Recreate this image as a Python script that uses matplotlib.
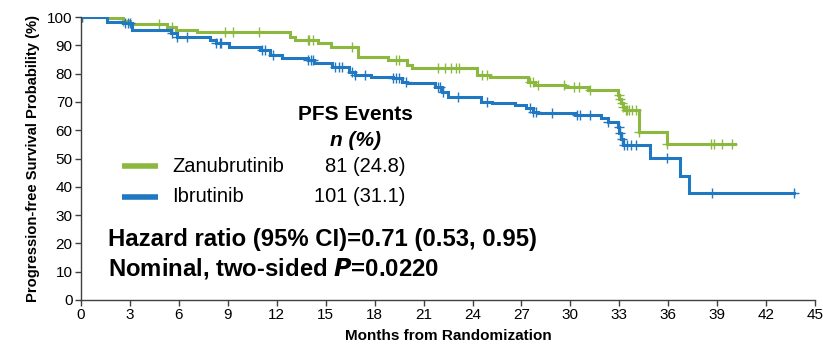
import numpy as np
import matplotlib
matplotlib.use("Agg")
import matplotlib.pyplot as plt
from matplotlib import font_manager

# ---------------- data ----------------
zanu_times = [0, 1.6, 2.6, 3.0, 5.3, 5.8, 7.1, 12.8, 13.1, 14.5, 15.3, 17.0, 18.8, 20.0, 20.3,
              24.3, 25.1, 27.4, 27.8, 29.7, 31.1, 32.9, 33.0, 33.1, 33.2, 33.3, 34.2, 35.9]
zanu_surv = [100, 99.5, 98.7, 97.5, 96.6, 95.6, 94.8, 92.8, 91.9, 90.7, 89.5, 86.0, 84.8, 83.0, 81.9,
             79.5, 78.9, 77.1, 76.0, 75.4, 74.2, 72.5, 71.0, 69.5, 68.3, 67.1, 59.5, 55.0]
zanu_end = 40.1
zanu_censor = [0.05, 2.6, 4.8, 5.6, 8.8, 9.3, 10.9, 13.9, 14.0, 14.2, 16.6, 19.3, 19.5, 21.9, 22.3,
               22.7, 23.0, 23.2, 24.6, 24.9, 27.5, 27.7, 28.0, 29.6, 30.2, 30.5, 31.2, 32.95, 33.05,
               33.15, 33.25, 33.4, 33.5, 33.6, 33.8, 34.0, 34.2, 35.9, 38.6, 38.8, 39.3, 39.9]

ibru_times = [0, 1.6, 2.6, 3.1, 5.5, 5.9, 7.9, 8.3, 9.1, 11.0, 11.6, 12.3, 13.9, 14.3, 15.4, 16.4,
              16.8, 17.8, 19.1, 19.7, 20.0, 21.7, 22.1, 22.5, 24.5, 25.2, 26.6, 27.3, 27.7, 28.0,
              30.3, 31.9, 32.3, 32.9, 33.0, 33.1, 33.2, 34.9, 36.7, 37.3]
ibru_surv = [100, 98.3, 97.8, 95.4, 94.2, 93.0, 91.9, 90.7, 89.5, 88.3, 86.6, 85.6, 84.8, 83.6, 82.2,
             80.7, 79.5, 78.9, 78.3, 77.1, 76.6, 75.4, 73.6, 71.8, 70.1, 69.5, 68.9, 67.7, 66.5, 66.0,
             65.4, 64.2, 63.0, 61.0, 59.0, 57.0, 54.8, 50.3, 43.9, 37.7]
ibru_end = 43.7
ibru_censor = [0.05, 2.7, 2.9, 3.0, 5.6, 5.9, 6.5, 8.3, 8.5, 8.6, 11.1, 11.3, 11.8, 13.9, 14.1, 14.2,
               15.6, 15.8, 16.0, 16.6, 16.8, 17.4, 19.1, 19.3, 19.5, 19.9, 21.9, 22.0, 22.2, 23.1,
               24.9, 27.5, 27.7, 27.9, 28.9, 30.4, 30.6, 31.2, 32.3, 32.95, 33.05, 33.15, 33.3, 33.5,
               33.7, 34.0, 35.9, 38.7, 43.7]

x_ticks = list(range(0, 46, 3))
y_ticks = list(range(0, 101, 10))

labels = ["Zanubrutinib", "Ibrutinib"]
events = ["81 (24.8)", "101 (31.1)"]
colors = ["#8db83f", "#1f78c1"]

# ---------------- plot ----------------
avail = {f.name for f in font_manager.fontManager.ttflist}
base = "Liberation Sans" if "Liberation Sans" in avail else "DejaVu Sans"
narrow = "Liberation Sans Narrow" if "Liberation Sans Narrow" in avail else base
plt.rcParams["font.family"] = [base, "DejaVu Sans"]

fig = plt.figure(figsize=(8.23, 3.48), dpi=100)
ax = fig.add_axes([0.0984, 0.138, 0.892, 0.813])


def step_value(times, surv, t):
    idx = np.searchsorted(np.asarray(times), np.asarray(t), side="right") - 1
    return np.asarray(surv)[idx]


for times, surv, end, cens, col in [
    (zanu_times, zanu_surv, zanu_end, zanu_censor, colors[0]),
    (ibru_times, ibru_surv, ibru_end, ibru_censor, colors[1]),
]:
    t = list(times) + [end]
    s = list(surv) + [surv[-1]]
    ax.step(t, s, where="post", color=col, lw=2.2, solid_joinstyle="miter")
    ax.plot(cens, step_value(times, surv, cens), linestyle="none", marker="+",
            color=col, markersize=7, mew=1.0)

ax.set_xlim(0, 45)
ax.set_ylim(0, 100)
ax.set_xticks(x_ticks)
ax.set_yticks(y_ticks)
for sp in ["top", "right"]:
    ax.spines[sp].set_visible(False)
for sp in ["left", "bottom"]:
    ax.spines[sp].set_color("#404040")
    ax.spines[sp].set_linewidth(1.0)
ax.tick_params(axis="both", direction="out", length=4, width=1.0, color="#404040",
               labelsize=11, pad=2)
for lab in ax.get_xticklabels() + ax.get_yticklabels():
    lab.set_family([narrow, base])

ax.set_xlabel("Months from Randomization", fontsize=11, fontweight="bold",
              family=[narrow, base], labelpad=5)
ax.set_ylabel("Progression-free Survival Probability (%)", fontsize=10.6, fontweight="bold",
              labelpad=5)

# legend / annotation block
ax.text(16.8, 65.4, "PFS Events", ha="center", va="center", fontsize=15, fontweight="bold")
ax.text(16.8, 56.5, "n (%)", ha="center", va="center", fontsize=15, fontweight="bold",
        style="italic")
for lab, ev, col, yy in zip(labels, events, colors, [47.3, 36.4]):
    ax.plot([2.5, 4.7], [yy, yy], color=col, lw=4, marker="none", solid_capstyle="butt")
    ax.text(5.6, yy, lab, ha="left", va="center", fontsize=14.5)
    ax.text(19.9, yy, ev, ha="right", va="center", fontsize=14.5)

ax.text(1.65, 21.2, "Hazard ratio (95% CI)=0.71 (0.53, 0.95)", ha="left", va="center",
        fontsize=17.2, fontweight="bold")
ax.text(1.65, 11.3, r"Nominal, two-sided $\boldsymbol{P}$=0.0220", ha="left", va="center",
        fontsize=17.2, fontweight="bold")

fig.savefig("out.png", dpi=100)
